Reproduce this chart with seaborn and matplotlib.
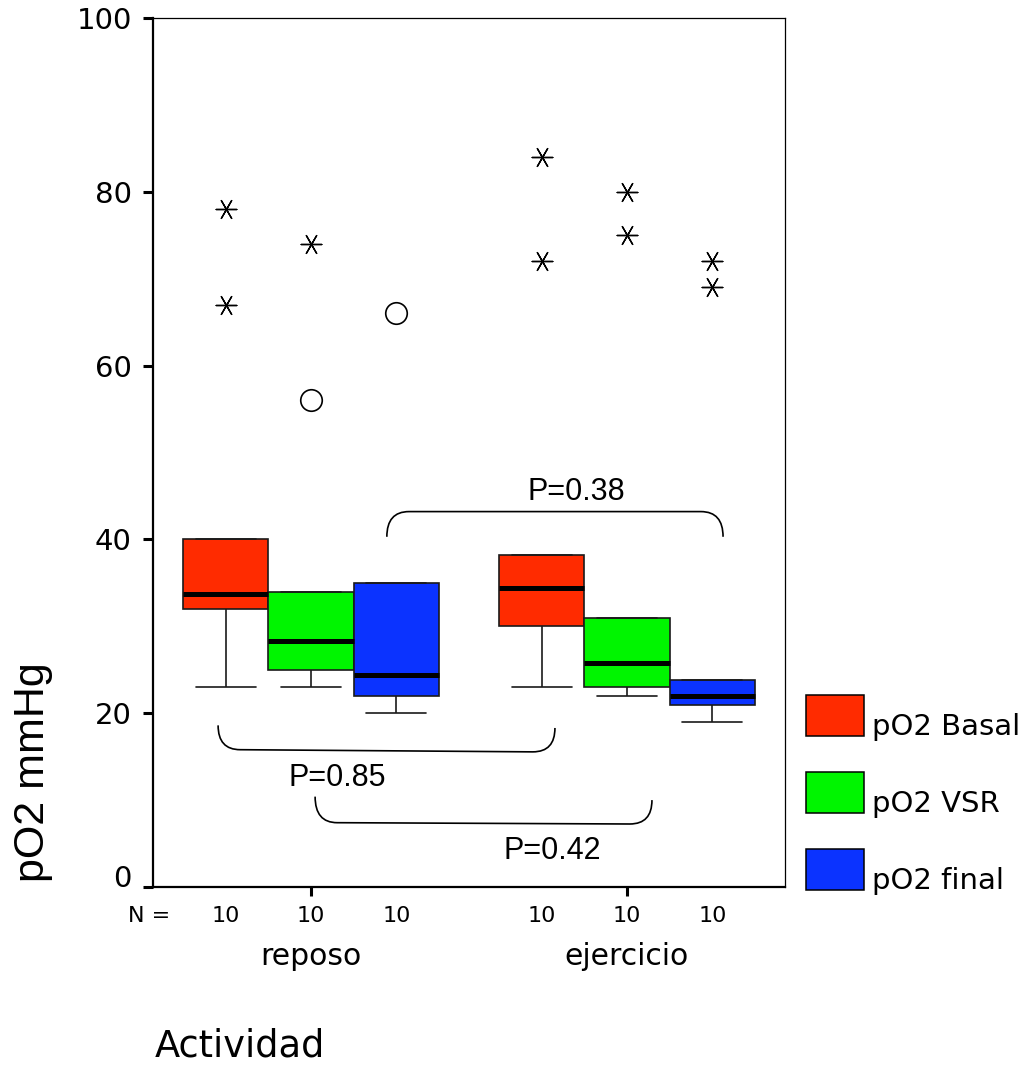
import numpy as np
import pandas as pd
import matplotlib
matplotlib.use("Agg")
import matplotlib.pyplot as plt
from matplotlib.patches import Rectangle, PathPatch
from matplotlib.path import Path
from matplotlib.transforms import blended_transform_factory
import seaborn as sns

# ---- data -------------------------------------------------------------
actividades = ["reposo", "ejercicio"]
medidas = ["pO2 Basal", "pO2 VSR", "pO2 final"]
colores = ["#FF2B00", "#00F500", "#0B33FF"]

# pO2 (mmHg), 10 patients per condition
reposo_basal = [23, 31, 32, 32, 33, 34.4, 40, 40, 67, 78]
reposo_vsr = [23, 24, 25, 25, 28, 28.6, 34, 34, 56, 74]
reposo_final = [20, 21, 22, 22, 24, 24.8, 35, 35, 35, 66]
ejercicio_basal = [23, 28, 30, 30, 34, 34.8, 38.2, 38.2, 72, 84]
ejercicio_vsr = [22, 22.5, 23, 23, 25, 26.6, 31, 31, 75, 80]
ejercicio_final = [19, 20, 21, 21, 22, 22, 23.8, 23.8, 69, 72]

p_labels = ["P=0.38", "P=0.85", "P=0.42"]

series = {
    ("reposo", "pO2 Basal"): reposo_basal,
    ("reposo", "pO2 VSR"): reposo_vsr,
    ("reposo", "pO2 final"): reposo_final,
    ("ejercicio", "pO2 Basal"): ejercicio_basal,
    ("ejercicio", "pO2 VSR"): ejercicio_vsr,
    ("ejercicio", "pO2 final"): ejercicio_final,
}
rows = [(a, m, v) for (a, m), vals in series.items() for v in vals]
df = pd.DataFrame(rows, columns=["Actividad", "Medida", "pO2"])

# ---- style ------------------------------------------------------------
sns.set_style("ticks", {"axes.edgecolor": "black", "xtick.color": "black",
                        "ytick.color": "black", "text.color": "black",
                        "axes.labelcolor": "black"})
plt.rcParams["font.family"] = ["DejaVu Sans"]

W, H = 1023, 1067
fig = plt.figure(figsize=(W / 100, H / 100), dpi=100)
ax = fig.add_axes([153 / W, 1 - 887 / H, 632 / W, 869 / H])

BOX_W = 0.81
sns.boxplot(data=df, x="Actividad", y="pO2", hue="Medida",
            order=actividades, hue_order=medidas, palette=colores,
            saturation=1, width=BOX_W, gap=0, showfliers=False,
            linecolor="#1a1a1a", linewidth=1.2,
            medianprops=dict(color="black", linewidth=3.6),
            legend=False, ax=ax)

# narrower whisker caps
sub_w = BOX_W / len(medidas)
for cont in ax.containers:
    caps = getattr(cont, "caps", [])
    for cap in caps:
        xs = np.asarray(cap.get_xdata(), dtype=float)
        c = xs.mean()
        cap.set_xdata([c - 0.35 * sub_w, c + 0.35 * sub_w])


def box_x(act, med):
    return actividades.index(act) + (medidas.index(med) - 1) * sub_w


# outliers (o) and extremes (*)
pts = []
for (a, m), vals in series.items():
    v = np.asarray(vals, dtype=float)
    q1, q3 = np.percentile(v, [25, 75])
    iqr = q3 - q1
    for val in v:
        if val > q3 + 3 * iqr or val < q1 - 3 * iqr:
            pts.append((box_x(a, m), val, "extremo"))
        elif val > q3 + 1.5 * iqr or val < q1 - 1.5 * iqr:
            pts.append((box_x(a, m), val, "atipico"))
pts = pd.DataFrame(pts, columns=["x", "pO2", "tipo"])

sns.scatterplot(data=pts[pts.tipo == "extremo"], x="x", y="pO2",
                marker=(6, 2, 30), s=220, color="black", linewidth=1.0,
                ax=ax, zorder=5)
sns.scatterplot(data=pts[pts.tipo == "atipico"], x="x", y="pO2",
                marker="o", s=240, color="white", edgecolor="black",
                linewidth=1.2, ax=ax, zorder=5)

# ---- axes -------------------------------------------------------------
ax.set_xlim(-0.5, 1.5)
ax.set_ylim(0, 100)
ax.set_yticks(range(0, 101, 20))
ax.set_xticks(range(len(actividades)))
ax.set_xticklabels(actividades)
ax.tick_params(axis="y", labelsize=21, length=7.2, width=2.2, pad=8,
               direction="out")
ax.tick_params(axis="x", labelsize=21.5, length=6.5, width=2.2, pad=33,
               direction="out")
ax.get_yticklabels()[0].set_va("baseline")
for side in ["left", "bottom"]:
    ax.spines[side].set_linewidth(1.6)
for side in ["top", "right"]:
    ax.spines[side].set_linewidth(0.9)

ax.set_xlabel("Actividad", fontsize=26.5)
ax.xaxis.set_label_coords(0.138, -0.162)
ax.set_ylabel("pO2 mmHg", fontsize=31, family=["Liberation Sans"])
ax.yaxis.set_label_coords(-0.158, 0.132)

# N row
trans = blended_transform_factory(ax.transData, ax.transAxes)
ax.text(-0.5 + (149 - 153) / 316, -0.040, "N =", transform=trans,
        ha="center", va="baseline", fontsize=16, clip_on=False)
for (a, m), vals in series.items():
    ax.text(box_x(a, m), -0.040, str(len(vals)), transform=trans,
            ha="center", va="baseline", fontsize=16, clip_on=False)

# ---- comparison brackets ------------------------------------------------
# (x_left, y_left_end, y_left_line, x_right, y_right_line, y_right_end)
brackets = [
    (0.24, 40.3, 43.2, 1.304, 43.2, 40.3),
    (-0.294, 18.6, 15.8, 0.772, 15.55, 18.3),
    (0.013, 10.4, 7.4, 1.079, 7.25, 10.0),
]
label_pos = [(0.839, 45.4), (0.082, 12.5), (0.764, 4.2)]
rx = 0.07
for (x0, ye0, yl0, x1, yl1, ye1) in brackets:
    verts = [(x0, ye0), (x0, yl0), (x0 + rx, yl0),
             (x1 - rx, yl1),
             (x1, yl1), (x1, ye1)]
    codes = [Path.MOVETO, Path.CURVE3, Path.CURVE3,
             Path.LINETO, Path.CURVE3, Path.CURVE3]
    ax.add_patch(PathPatch(Path(verts, codes), fill=False, ec="black",
                           lw=1.2, zorder=4))
for txt, (x, y) in zip(p_labels, label_pos):
    ax.text(x, y, txt, ha="center", va="center", fontsize=22,
            family=["Liberation Sans"], zorder=6)

# ---- legend -----------------------------------------------------------
leg_tops = [695, 772, 849]
for med, col, top in zip(medidas, colores, leg_tops):
    fig.add_artist(Rectangle((806 / W, 1 - (top + 41) / H), 58 / W, 41 / H,
                             transform=fig.transFigure, facecolor=col,
                             edgecolor="black", linewidth=1.1))
    fig.text(872 / W, 1 - (top + 40) / H, med, fontsize=21,
             ha="left", va="baseline")

fig.savefig("out.png", dpi=100)
